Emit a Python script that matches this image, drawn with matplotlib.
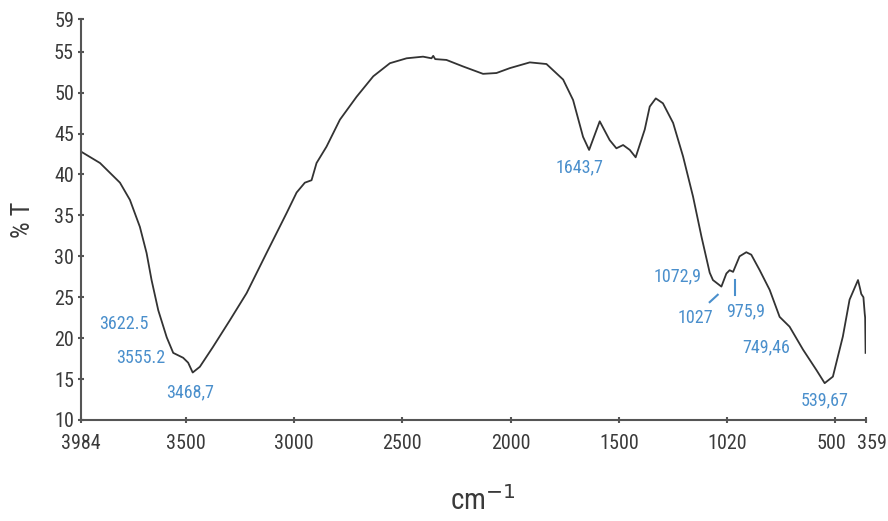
import matplotlib
matplotlib.use("Agg")
import matplotlib.pyplot as plt
from matplotlib.transforms import ScaledTranslation

# wavenumber (cm-1) and %T
wavenumber = [3984, 3896, 3804, 3758, 3712, 3681, 3658, 3627, 3588, 3558,
              3512, 3489, 3468, 3435, 3375, 3296, 3219, 3127, 3034, 2988,
              2950, 2919, 2896, 2850, 2788, 2711, 2634, 2557, 2480, 2404,
              2365, 2357, 2348, 2296, 2219, 2127, 2065, 2003, 1911, 1834,
              1757, 1711, 1665, 1637, 1588, 1542, 1511, 1480, 1449, 1422,
              1380, 1357, 1329, 1296, 1249, 1203, 1157, 1118, 1080, 1065,
              1026, 1003, 988, 972, 942, 911, 888, 849, 803, 757,
              711, 649, 587, 549, 511, 465, 434, 395, 385, 380,
              370, 364, 362, 360]
transmittance = [42.8, 41.4, 39.0, 36.9, 33.6, 30.4, 27.1, 23.4, 20.1, 18.2,
                 17.6, 17.0, 15.8, 16.5, 18.9, 22.2, 25.5, 30.4, 35.3, 37.8,
                 39.0, 39.3, 41.4, 43.4, 46.7, 49.5, 52.0, 53.6, 54.2, 54.4,
                 54.2, 54.5, 54.1, 54.0, 53.2, 52.3, 52.4, 53.0, 53.7, 53.5,
                 51.6, 49.1, 44.6, 43.0, 46.5, 44.2, 43.2, 43.6, 43.0, 42.1,
                 45.5, 48.3, 49.3, 48.7, 46.3, 42.2, 37.3, 32.4, 28.0, 27.1,
                 26.3, 27.9, 28.3, 28.1, 30.0, 30.5, 30.2, 28.3, 25.9, 22.6,
                 21.4, 18.6, 16.1, 14.5, 15.3, 20.2, 24.7, 27.1, 26.0, 25.4,
                 25.0, 23.0, 22.5, 18.2]

xticks = [3984, 3500, 3000, 2500, 2000, 1500, 1000, 500, 359]
xtick_labels = ["3984", "3500", "3000", "2500", "2000", "1500", "1020", "500", "359"]
yticks = [10, 15, 20, 25, 30, 35, 40, 45, 50, 55, 59]

# peak labels and where they sit (data units)
peak_labels = ["3622.5", "3555.2", "3468,7", "1643,7", "1072,9", "1027", "975,9", "749,46", "539,67"]
label_x = [3785, 3707, 3481, 1680, 1228, 1145, 914, 817, 549]
label_y = [21.7, 17.6, 13.4, 40.9, 27.6, 22.5, 23.3, 18.9, 12.4]

narrow = ["Roboto Condensed", "DejaVu Sans"]
blue = "#4a8fcc"
axcol = "#555555"
txtcol = "#3a3a3a"

fig = plt.figure(figsize=(8.88, 5.21), dpi=100)
ax = fig.add_axes([0.0912, 0.1939, 0.8838, 0.7696])

ax.plot(wavenumber, transmittance, color="#333333", lw=1.3)

ax.set_xlim(3984, 359)
ax.set_ylim(10, 59)
ax.set_xticks(xticks)
ax.set_xticklabels(xtick_labels)
ax.set_yticks(yticks)

for s in ["top", "right"]:
    ax.spines[s].set_visible(False)
for s in ["left", "bottom"]:
    ax.spines[s].set_color(axcol)
    ax.spines[s].set_linewidth(1.5)

ax.tick_params(axis="both", direction="inout", length=4, width=1.5, color=axcol,
               labelcolor=txtcol, labelsize=14.5)
ax.tick_params(axis="x", pad=8)
ax.tick_params(axis="y", pad=3)
for lab in ax.get_xticklabels() + ax.get_yticklabels():
    lab.set_family(narrow)

# push the last two x labels apart a little
xl = ax.get_xticklabels()
xl[-2].set_transform(xl[-2].get_transform() + ScaledTranslation(-4 / 100, 0, fig.dpi_scale_trans))
xl[-1].set_transform(xl[-1].get_transform() + ScaledTranslation(6 / 100, 0, fig.dpi_scale_trans))

ax.set_ylabel("% T", family=narrow, fontsize=19, color=txtcol, labelpad=14)
ax.set_xlabel(r"cm$^{-1}$", family=narrow, fontsize=21, color=txtcol)
ax.xaxis.set_label_coords(0.512, -0.165)

for txt, lx, ly in zip(peak_labels, label_x, label_y):
    ax.text(lx, ly, txt, color=blue, fontsize=13, family=narrow,
            ha="center", va="center")

# small leader marks for 1027 and 975.9
ax.plot([1080, 1043], [24.4, 25.3], color=blue, lw=1.5)
ax.plot([964, 964], [25.3, 27.1], color=blue, lw=1.5)

fig.savefig("out.png", dpi=100)
